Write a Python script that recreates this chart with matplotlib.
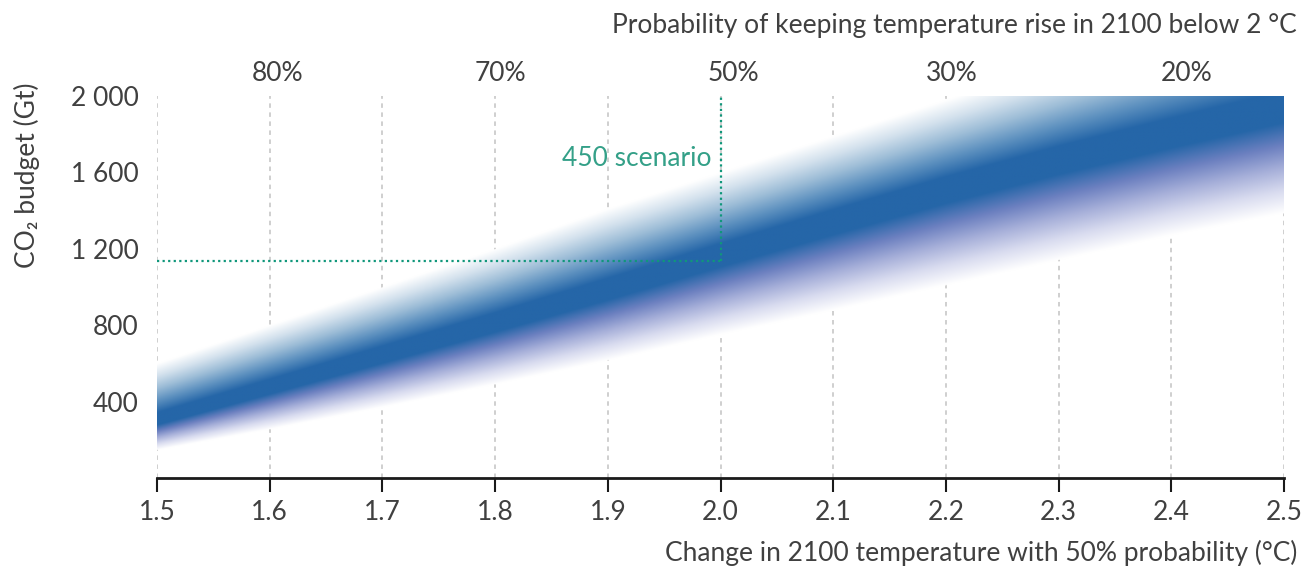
import numpy as np
import matplotlib
matplotlib.use("Agg")
import matplotlib.pyplot as plt
from matplotlib.colors import LinearSegmentedColormap

plt.rcParams['font.family'] = ['Lato', 'DejaVu Sans']

# temperature (°C) and the CO2 budget band (Gt)
temps = [1.5, 1.6, 1.7, 1.8, 1.9, 2.0, 2.1, 2.2, 2.3, 2.4, 2.5]
band_mid = [300, 470, 640, 810, 985, 1165, 1340, 1510, 1665, 1805, 1940]
band_top = [600, 800, 1000, 1200, 1410, 1600, 1790, 1980, 2170, 2360, 2550]
band_low = [146, 255, 370, 490, 615, 750, 878, 1009, 1140, 1270, 1386]

x_ticks = [1.5, 1.6, 1.7, 1.8, 1.9, 2.0, 2.1, 2.2, 2.3, 2.4, 2.5]
y_ticks = [400, 800, 1200, 1600, 2000]
y_labels = ["400", "800", "1 200", "1 600", "2 000"]

prob_pos = [1.607, 1.805, 2.011, 2.205, 2.414]
prob_labels = ["80%", "70%", "50%", "30%", "20%"]

scen_temp = 2.0
scen_budget = 1135

text_col = "#404040"
teal = "#10977b"
fs = 19

up_cmap = LinearSegmentedColormap.from_list(
    "up", [(0, "#ffffff"), (0.25, "#d3e1ed"), (0.5, "#9dbdd7"),
           (0.75, "#5f92c0"), (1, "#2566a8")])
low_cmap = LinearSegmentedColormap.from_list(
    "low", [(0, "#ffffff"), (0.25, "#d8dbef"), (0.5, "#a6afd9"),
            (0.75, "#6c80c0"), (1, "#2566a8")])

# build the shaded band as an image
nx, ny = 700, 800
gx = np.linspace(1.5, 2.5, nx)
gy = np.linspace(0, 2000, ny)
mid = np.interp(gx, temps, band_mid)
top = np.interp(gx, temps, band_top)
low = np.interp(gx, temps, band_low)
Y = gy[:, None]
t_up = (Y - mid[None, :]) / (top - mid)[None, :]
t_lo = (mid[None, :] - Y) / (mid - low)[None, :]
above = Y >= mid[None, :]
t = np.where(above, t_up, t_lo)
v = np.clip((1 - t) / 0.86, 0, 1)
rgba = np.where(above[..., None], up_cmap(v), low_cmap(v))
rgba[..., 3] = np.where(t < 1, 1.0, 0.0)

fig = plt.figure(figsize=(13.05, 5.7), dpi=100)
ax = fig.add_axes([157 / 1305, 1 - 478 / 570, (1284 - 157) / 1305, (478 - 96) / 570])

ax.imshow(rgba, extent=[1.5, 2.5, 0, 2000], origin="lower", aspect="auto",
          interpolation="bilinear", zorder=1)

ax.set_xlim(1.5, 2.5)
ax.set_ylim(0, 2000)
ax.set_xticks(x_ticks)
ax.set_xticklabels(["%.1f" % x for x in x_ticks])
ax.set_yticks(y_ticks)
ax.set_yticklabels(y_labels)
ax.set_axisbelow(True)
ax.grid(axis="x", color="#cccccc", linestyle=(0, (2.5, 2.5)), linewidth=1.3)

for s in ["top", "right", "left"]:
    ax.spines[s].set_visible(False)
ax.spines["bottom"].set_linewidth(2)
ax.spines["bottom"].set_color("#1a1a1a")
ax.tick_params(axis="x", length=10, width=1.5, color="#1a1a1a", pad=6,
               labelsize=fs, labelcolor=text_col)
ax.tick_params(axis="y", length=0, pad=13, labelsize=fs, labelcolor=text_col)

# 450 scenario guide lines
ax.plot([1.5, scen_temp], [scen_budget, scen_budget], color=teal,
        linestyle=(0, (1, 1.5)), linewidth=1.6, zorder=3)
ax.plot([scen_temp, scen_temp], [scen_budget, 2000], color=teal,
        linestyle=(0, (1, 1.5)), linewidth=1.6, zorder=3, clip_on=False)
ax.text(scen_temp - 0.008, 1673, "450 scenario", color="#34a088", fontsize=fs,
        ha="right", va="center", zorder=4)

# probability axis on top
for p, lab in zip(prob_pos, prob_labels):
    ax.text(p, 1.06, lab, transform=ax.get_xaxis_transform(), ha="center",
            va="center", fontsize=fs, color=text_col)

fig.text(1297 / 1305, 1 - 25 / 570,
         "Probability of keeping temperature rise in 2100 below 2 °C",
         ha="right", va="center", fontsize=fs, color=text_col)
fig.text(1297 / 1305, 1 - 553 / 570,
         "Change in 2100 temperature with 50% probability (°C)",
         ha="right", va="center", fontsize=fs, color=text_col)
fig.text(27 / 1305, 1 - 175 / 570, "CO₂ budget (Gt)", rotation=90,
         ha="center", va="center", fontsize=fs, color=text_col)

fig.savefig("out.png", dpi=100)
